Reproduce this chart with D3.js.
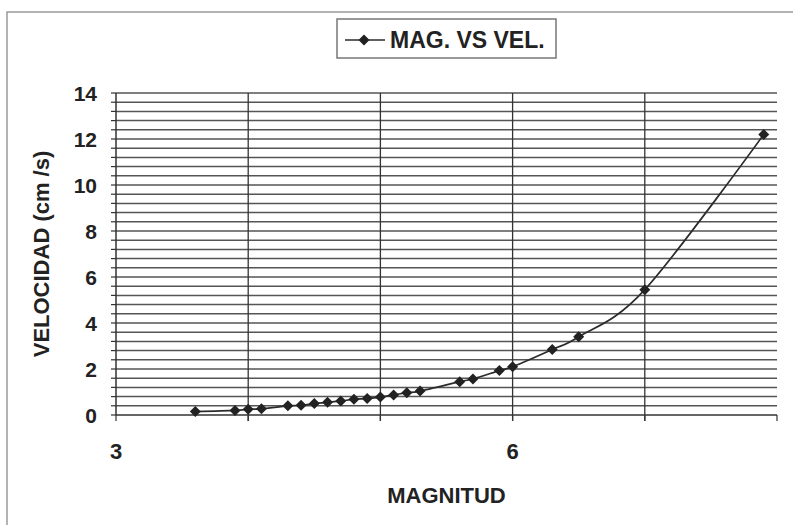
<!DOCTYPE html>
<html>
<head>
<meta charset="utf-8">
<script src="https://cdn.jsdelivr.net/npm/d3@7/dist/d3.min.js"></script>
<style>
  html, body { margin: 0; padding: 0; background: #fff; }
  svg { display: block; }
  text { font-family: "Liberation Sans", Arial, sans-serif; font-weight: bold; fill: #222; }
</style>
</head>
<body>
<svg id="chart" width="793" height="525"></svg>
<script>
// Magnitude (x) and velocity in cm/s (y)
const magnitude = [3.6, 3.9, 4.0, 4.1, 4.3, 4.4, 4.5, 4.6, 4.7, 4.8, 4.9, 5.0, 5.1, 5.2, 5.3, 5.6, 5.7, 5.9, 6.0, 6.3, 6.5, 7.0, 7.9];
const velocity  = [0.15, 0.2, 0.25, 0.27, 0.4, 0.42, 0.5, 0.55, 0.61, 0.68, 0.72, 0.78, 0.87, 0.97, 1.04, 1.45, 1.57, 1.93, 2.1, 2.85, 3.4, 5.45, 12.2];

const yTickValues = [0, 2, 4, 6, 8, 10, 12, 14];
const xTickLabels = [3, 6];
const xGridValues = [4, 5, 6, 7];
const seriesName = "MAG. VS VEL.";
const xTitle = "MAGNITUD";
const yTitle = "VELOCIDAD (cm /s)";

const svg = d3.select("#chart");
const plot = { left: 116, right: 777, top: 93, bottom: 415 };

const x = d3.scaleLinear().domain([3, 8]).range([plot.left, plot.right]);
const y = d3.scaleLinear().domain([0, 14]).range([plot.bottom, plot.top]);

// chart frame
svg.append("rect")
  .attr("x", 7).attr("y", 12).attr("width", 800).attr("height", 530)
  .attr("fill", "none").attr("stroke", "#9a9a9a").attr("stroke-width", 1.5);

// minor horizontal gridlines every 0.4
const minorY = d3.range(0, 35).map(i => +(i * 0.4 + 0.4).toFixed(1));
svg.append("g").selectAll("line").data(minorY).join("line")
  .attr("x1", plot.left).attr("x2", plot.right)
  .attr("y1", d => y(d)).attr("y2", d => y(d))
  .attr("stroke", "#555").attr("stroke-width", 1.5);

// vertical gridlines at whole magnitudes
svg.append("g").selectAll("line").data(xGridValues).join("line")
  .attr("x1", d => x(d)).attr("x2", d => x(d))
  .attr("y1", plot.top).attr("y2", plot.bottom + 6)
  .attr("stroke", "#333").attr("stroke-width", 1.3);

// y axis with minor tick marks
const yAxis = svg.append("g").attr("transform", `translate(${plot.left},0)`);
yAxis.append("line")
  .attr("x1", 0).attr("x2", 0).attr("y1", plot.top).attr("y2", plot.bottom)
  .attr("stroke", "#333").attr("stroke-width", 1.5);
yAxis.selectAll("line.minor").data([0].concat(minorY)).join("line")
  .attr("class", "minor")
  .attr("x1", -5).attr("x2", 0)
  .attr("y1", d => y(d)).attr("y2", d => y(d))
  .attr("stroke", "#333").attr("stroke-width", 1.2);
yAxis.selectAll("text").data(yTickValues).join("text")
  .attr("x", -19).attr("y", d => y(d)).attr("dy", "0.36em")
  .attr("text-anchor", "end").attr("font-size", 21)
  .text(d => d);

// x axis
const xAxis = svg.append("g").attr("transform", `translate(0,${plot.bottom})`);
xAxis.append("line")
  .attr("x1", plot.left).attr("x2", plot.right)
  .attr("stroke", "#333").attr("stroke-width", 1.5);
xAxis.selectAll("line.tick").data([3].concat(xGridValues, [8])).join("line")
  .attr("class", "tick")
  .attr("x1", d => x(d)).attr("x2", d => x(d)).attr("y1", 0).attr("y2", 6)
  .attr("stroke", "#333").attr("stroke-width", 1.2);
xAxis.selectAll("text").data(xTickLabels).join("text")
  .attr("x", d => x(d)).attr("y", 44)
  .attr("text-anchor", "middle").attr("font-size", 22)
  .text(d => d);

// axis titles
svg.append("text")
  .attr("x", (plot.left + plot.right) / 2).attr("y", 503)
  .attr("text-anchor", "middle").attr("font-size", 22)
  .text(xTitle);
svg.append("text")
  .attr("transform", `translate(49,${(plot.top + plot.bottom) / 2}) rotate(-90)`)
  .attr("text-anchor", "middle").attr("font-size", 22)
  .text(yTitle);

// series line and markers
const pts = magnitude.map((m, i) => [m, velocity[i]]);
const line = d3.line().x(d => x(d[0])).y(d => y(d[1])).curve(d3.curveCardinal.tension(0));
svg.append("path").datum(pts)
  .attr("d", line)
  .attr("fill", "none").attr("stroke", "#2b2b2b").attr("stroke-width", 1.7);

const diamond = r => `M0,${-r}L${r},0L0,${r}L${-r},0Z`;
svg.append("g").selectAll("path").data(pts).join("path")
  .attr("transform", d => `translate(${x(d[0])},${y(d[1])})`)
  .attr("d", diamond(5.5))
  .attr("fill", "#222");

// legend
const lg = svg.append("g");
lg.append("rect")
  .attr("x", 337).attr("y", 19).attr("width", 219).attr("height", 39)
  .attr("fill", "#fff").attr("stroke", "#777").attr("stroke-width", 1.5);
lg.append("line")
  .attr("x1", 345).attr("x2", 385).attr("y1", 40).attr("y2", 40)
  .attr("stroke", "#2b2b2b").attr("stroke-width", 1.7);
lg.append("path")
  .attr("transform", "translate(364,40)")
  .attr("d", diamond(5.5)).attr("fill", "#222");
lg.append("text")
  .attr("x", 390).attr("y", 48)
  .attr("font-size", 23)
  .text(seriesName);
</script>
</body>
</html>
